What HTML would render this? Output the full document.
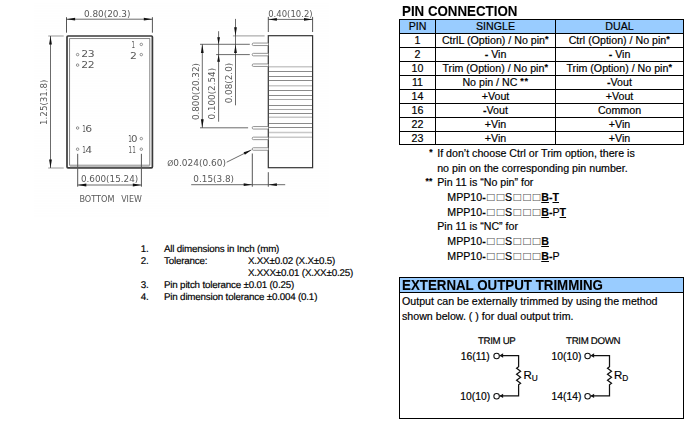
<!DOCTYPE html>
<html>
<head>
<meta charset="utf-8">
<title>Pin Connection</title>
<style>
html,body{margin:0;padding:0;background:#fff;}
body{width:693px;height:426px;position:relative;overflow:hidden;font-family:"Liberation Sans",sans-serif;color:#000;-webkit-text-stroke:0.18px #000;}
h1.t{position:absolute;margin:0;font-size:14px;font-weight:bold;line-height:14px;white-space:nowrap;transform:scaleX(0.951);transform-origin:0 0;-webkit-text-stroke:0.1px #000;}
table.pin{position:absolute;left:399px;top:19px;border-collapse:collapse;font-size:10.65px;table-layout:fixed;width:285px;}
table.pin td,table.pin th{border:1px solid #000;padding:0;height:13px;line-height:13px;text-align:center;font-weight:normal;white-space:nowrap;overflow:hidden;}
table.pin th{background:#99ccff;}
table.pin tr.last td{height:12px;line-height:12px;}
.note{position:absolute;font-size:10.65px;line-height:14px;white-space:nowrap;}
.ln{position:absolute;font-size:9.8px;line-height:12px;white-space:nowrap;letter-spacing:-0.19px;text-rendering:geometricPrecision;}
.q{font-family:"DejaVu Sans","Liberation Sans",sans-serif;font-size:9.7px;letter-spacing:0.52px;color:#555;-webkit-text-stroke:0;position:relative;top:-1.1px;left:0.3px;line-height:0;}
.box{position:absolute;left:399px;top:277px;width:285px;height:142px;border:1px solid #000;box-sizing:border-box;}
.boxh{position:absolute;left:0;top:0;right:0;height:14px;background:#99ccff;border-bottom:1px solid #000;}
svg{position:absolute;left:0;top:0;}
svg text{font-family:"DejaVu Sans","Liberation Sans",sans-serif;font-weight:normal;-webkit-text-stroke:0;}
svg{filter:grayscale(1);}
.a{font-size:9px;font-weight:bold;vertical-align:2.2px;line-height:0;letter-spacing:0.6px;}
u{text-decoration-thickness:1.3px;text-underline-offset:1.4px;}
sub{font-size:8.3px;vertical-align:-1.5px;line-height:0;}
</style>
</head>
<body>
<svg width="693" height="426" viewBox="0 0 693 426">
<defs><pattern id="bg" x="0" y="0" width="8" height="5" patternUnits="userSpaceOnUse"><rect x="0" y="0" width="8" height="2" fill="#fefefe"/><rect x="0" y="3" width="8" height="1" fill="#fefefe"/></pattern></defs>
<rect x="34" y="3" width="295" height="214" fill="url(#bg)"/>
<rect x="67" y="36" width="85.4" height="131.8" rx="1" fill="none" stroke="#3a3a3a" stroke-width="1.7"/>
<rect x="69.6" y="38.6" width="80.2" height="126.6" fill="none" stroke="#777" stroke-width="0.9"/>
<rect x="70" y="165.6" width="79.5" height="1.6" fill="#bbb"/>
<line x1="66.5" y1="17.2" x2="66.5" y2="32.7" stroke="#555" stroke-width="1"/>
<line x1="152.4" y1="17.2" x2="152.4" y2="32.7" stroke="#555" stroke-width="1"/>
<line x1="66.5" y1="19.2" x2="152.4" y2="19.2" stroke="#3a3a3a" stroke-width="0.75"/>
<polygon points="66.60,19.20 75.10,17.80 75.10,20.60" fill="#111"/>
<polygon points="152.30,19.20 143.80,20.60 143.80,17.80" fill="#111"/>
<text x="83.9" y="16.9" font-size="9.2" fill="#585858" textLength="46.6" lengthAdjust="spacingAndGlyphs">0.80(20.3)</text>
<line x1="48.2" y1="36" x2="63.7" y2="36" stroke="#999" stroke-width="1"/>
<line x1="48.2" y1="168" x2="63.7" y2="168" stroke="#999" stroke-width="1"/>
<line x1="50.5" y1="36" x2="50.5" y2="168" stroke="#3a3a3a" stroke-width="0.75"/>
<polygon points="50.50,36.10 51.90,44.60 49.10,44.60" fill="#111"/>
<polygon points="50.50,167.90 49.10,159.40 51.90,159.40" fill="#111"/>
<text x="47.4" y="124.9" font-size="9.2" fill="#585858" textLength="45.4" lengthAdjust="spacingAndGlyphs" transform="rotate(-90 47.4 124.9)">1.25(31.8)</text>
<circle cx="77.6" cy="54.6" r="1.25" fill="none" stroke="#666" stroke-width="0.7"/>
<circle cx="77.6" cy="65.1" r="1.25" fill="none" stroke="#666" stroke-width="0.7"/>
<circle cx="77.6" cy="128" r="1.25" fill="none" stroke="#666" stroke-width="0.7"/>
<circle cx="77.6" cy="149.2" r="1.25" fill="none" stroke="#666" stroke-width="0.7"/>
<circle cx="141.3" cy="44.4" r="1.25" fill="none" stroke="#666" stroke-width="0.7"/>
<circle cx="141.3" cy="54.6" r="1.25" fill="none" stroke="#666" stroke-width="0.7"/>
<circle cx="141.3" cy="138.6" r="1.25" fill="none" stroke="#666" stroke-width="0.7"/>
<circle cx="141.3" cy="149.2" r="1.25" fill="none" stroke="#666" stroke-width="0.7"/>
<text y="57.3" font-size="9.2" fill="#585858"><tspan x="81.2" textLength="6.9" lengthAdjust="spacingAndGlyphs">2</tspan><tspan x="87.8" textLength="6.9" lengthAdjust="spacingAndGlyphs">3</tspan></text>
<text y="68.0" font-size="9.2" fill="#585858"><tspan x="81.2" textLength="6.9" lengthAdjust="spacingAndGlyphs">2</tspan><tspan x="87.8" textLength="6.9" lengthAdjust="spacingAndGlyphs">2</tspan></text>
<text y="131.8" font-size="9.2" fill="#585858"><tspan x="82.2" textLength="3.6" lengthAdjust="spacingAndGlyphs">1</tspan><tspan x="85.2" textLength="6.9" lengthAdjust="spacingAndGlyphs">6</tspan></text>
<text y="153" font-size="9.2" fill="#585858"><tspan x="82.2" textLength="3.6" lengthAdjust="spacingAndGlyphs">1</tspan><tspan x="85.2" textLength="6.9" lengthAdjust="spacingAndGlyphs">4</tspan></text>
<text y="47.8" font-size="9.2" fill="#585858"><tspan x="131.6" textLength="3.6" lengthAdjust="spacingAndGlyphs">1</tspan></text>
<text y="58.9" font-size="9.2" fill="#585858"><tspan x="129.9" textLength="6.9" lengthAdjust="spacingAndGlyphs">2</tspan></text>
<text y="142.3" font-size="9.2" fill="#585858"><tspan x="128.3" textLength="3.6" lengthAdjust="spacingAndGlyphs">1</tspan><tspan x="131.0" textLength="6.5" lengthAdjust="spacingAndGlyphs">0</tspan></text>
<text y="153" font-size="9.2" fill="#585858"><tspan x="128.6" textLength="3.6" lengthAdjust="spacingAndGlyphs">1</tspan><tspan x="132.2" textLength="3.6" lengthAdjust="spacingAndGlyphs">1</tspan></text>
<line x1="77.7" y1="153.8" x2="77.7" y2="186.7" stroke="#555" stroke-width="1"/>
<line x1="141.4" y1="153.8" x2="141.4" y2="186.7" stroke="#555" stroke-width="1"/>
<line x1="77.7" y1="185" x2="141.4" y2="185" stroke="#3a3a3a" stroke-width="0.75"/>
<polygon points="77.80,185.00 86.30,183.60 86.30,186.40" fill="#111"/>
<polygon points="141.30,185.00 132.80,186.40 132.80,183.60" fill="#111"/>
<text x="80.9" y="182.1" font-size="9.2" fill="#585858" textLength="57.3" lengthAdjust="spacingAndGlyphs">0.600(15.24)</text>
<text y="201.8" font-size="9.2" fill="#585858"><tspan x="79.4" textLength="35" lengthAdjust="spacingAndGlyphs">BOTTOM</tspan> <tspan x="121.2" textLength="20.6" lengthAdjust="spacingAndGlyphs">VIEW</tspan></text>
<rect x="268.3" y="35.7" width="44.3" height="132" fill="none" stroke="#333" stroke-width="1.2"/>
<line x1="269" y1="66.7" x2="312" y2="66.7" stroke="#c8c8c8" stroke-width="1.6"/>
<line x1="269" y1="71.5" x2="312" y2="71.5" stroke="#8a8a8a" stroke-width="1"/>
<line x1="269" y1="76.5" x2="312" y2="76.5" stroke="#8a8a8a" stroke-width="1"/>
<line x1="269" y1="80.5" x2="312" y2="80.5" stroke="#8a8a8a" stroke-width="1"/>
<line x1="269" y1="85.8" x2="312" y2="85.8" stroke="#c8c8c8" stroke-width="1.5"/>
<line x1="269" y1="90.5" x2="312" y2="90.5" stroke="#8a8a8a" stroke-width="1"/>
<line x1="269" y1="95.5" x2="312" y2="95.5" stroke="#8a8a8a" stroke-width="1"/>
<line x1="269" y1="99.5" x2="312" y2="99.5" stroke="#aaaaaa" stroke-width="1"/>
<line x1="269" y1="105.5" x2="312" y2="105.5" stroke="#8a8a8a" stroke-width="1"/>
<line x1="269" y1="109.5" x2="312" y2="109.5" stroke="#aaaaaa" stroke-width="1"/>
<line x1="269" y1="113.5" x2="312" y2="113.5" stroke="#8a8a8a" stroke-width="1"/>
<line x1="269" y1="117.3" x2="312" y2="117.3" stroke="#c8c8c8" stroke-width="1.5"/>
<line x1="269" y1="123.5" x2="312" y2="123.5" stroke="#8a8a8a" stroke-width="1"/>
<line x1="269" y1="127.5" x2="312" y2="127.5" stroke="#8a8a8a" stroke-width="1"/>
<line x1="269" y1="132.5" x2="312" y2="132.5" stroke="#c8c8c8" stroke-width="1.5"/>
<line x1="269" y1="137.2" x2="312" y2="137.2" stroke="#c8c8c8" stroke-width="1.5"/>
<path d="M268.3 43.05H253.4a1.2 1.25 0 0 0 0 2.5H268.3" fill="#fff" stroke="#707070" stroke-width="0.75"/>
<path d="M268.3 53.35H253.4a1.2 1.25 0 0 0 0 2.5H268.3" fill="#fff" stroke="#707070" stroke-width="0.75"/>
<path d="M268.3 63.95H253.4a1.2 1.25 0 0 0 0 2.5H268.3" fill="#fff" stroke="#707070" stroke-width="0.75"/>
<path d="M268.3 126.55H253.4a1.2 1.25 0 0 0 0 2.5H268.3" fill="#fff" stroke="#707070" stroke-width="0.75"/>
<path d="M268.3 137.15H253.4a1.2 1.25 0 0 0 0 2.5H268.3" fill="#fff" stroke="#707070" stroke-width="0.75"/>
<path d="M268.3 147.75H253.4a1.2 1.25 0 0 0 0 2.5H268.3" fill="#fff" stroke="#707070" stroke-width="0.75"/>
<line x1="268.3" y1="16.9" x2="268.3" y2="32" stroke="#555" stroke-width="1"/>
<line x1="312.6" y1="16.9" x2="312.6" y2="32" stroke="#555" stroke-width="1"/>
<line x1="268.3" y1="19.4" x2="312.6" y2="19.4" stroke="#3a3a3a" stroke-width="0.75"/>
<polygon points="268.40,19.40 276.90,18.00 276.90,20.80" fill="#111"/>
<polygon points="312.50,19.40 304.00,20.80 304.00,18.00" fill="#111"/>
<text x="268.2" y="16.6" font-size="9.2" fill="#585858" textLength="44.5" lengthAdjust="spacingAndGlyphs">0.40(10.2)</text>
<line x1="232.9" y1="35.9" x2="264.6" y2="35.9" stroke="#999" stroke-width="1"/>
<line x1="200" y1="44.3" x2="249.8" y2="44.3" stroke="#3a3a3a" stroke-width="0.75"/>
<line x1="216.1" y1="54.6" x2="249.8" y2="54.6" stroke="#3a3a3a" stroke-width="0.75"/>
<line x1="200" y1="127.8" x2="248.1" y2="127.8" stroke="#3a3a3a" stroke-width="0.75"/>
<line x1="202.3" y1="44.3" x2="202.3" y2="127.8" stroke="#3a3a3a" stroke-width="0.75"/>
<polygon points="202.30,44.40 203.70,52.90 200.90,52.90" fill="#111"/>
<polygon points="202.30,127.70 200.90,119.20 203.70,119.20" fill="#111"/>
<line x1="218.6" y1="31.2" x2="218.6" y2="121.7" stroke="#3a3a3a" stroke-width="0.75"/>
<polygon points="218.60,44.20 217.20,37.20 220.00,37.20" fill="#111"/>
<polygon points="218.60,54.70 220.00,61.70 217.20,61.70" fill="#111"/>
<line x1="235.5" y1="18.9" x2="235.5" y2="105.3" stroke="#3a3a3a" stroke-width="0.75"/>
<polygon points="235.50,35.80 234.10,27.30 236.90,27.30" fill="#111"/>
<polygon points="235.50,44.40 236.90,52.90 234.10,52.90" fill="#111"/>
<text x="199.2" y="120.1" font-size="9.2" fill="#585858" textLength="57" lengthAdjust="spacingAndGlyphs" transform="rotate(-90 199.2 120.1)">0.800(20.32)</text>
<text x="215.2" y="119.4" font-size="9.2" fill="#585858" textLength="51.5" lengthAdjust="spacingAndGlyphs" transform="rotate(-90 215.2 119.4)">0.100(2.54)</text>
<text x="232.1" y="103.3" font-size="9.2" fill="#585858" textLength="40.5" lengthAdjust="spacingAndGlyphs" transform="rotate(-90 232.1 103.3)">0.08(2.0)</text>
<text x="167.3" y="165.6" font-size="9.2" fill="#585858" textLength="58.7" lengthAdjust="spacingAndGlyphs"><tspan font-size="7.8">Ø</tspan>0.024(0.60)</text>
<line x1="226.7" y1="162.2" x2="251.4" y2="149.9" stroke="#3a3a3a" stroke-width="0.75"/>
<polygon points="251.40,149.90 244.86,154.72 243.61,152.21" fill="#111"/>
<text x="193.3" y="182.1" font-size="9.2" fill="#585858" textLength="40.8" lengthAdjust="spacingAndGlyphs">0.15(3.8)</text>
<line x1="191.2" y1="184.7" x2="285.2" y2="184.7" stroke="#3a3a3a" stroke-width="0.75"/>
<line x1="252.3" y1="153.5" x2="252.3" y2="186.7" stroke="#555" stroke-width="1"/>
<line x1="268.3" y1="172.2" x2="268.3" y2="186.7" stroke="#555" stroke-width="1"/>
<polygon points="252.20,184.70 243.70,186.10 243.70,183.30" fill="#111"/>
<polygon points="268.40,184.70 276.90,183.30 276.90,186.10" fill="#111"/>
<path d="M499.6 355.5H518.6V366.8l-2 1.5l4 3l-4 3l4 3l-4 3l4 3l-2 1.5V395.9H499.6" fill="none" stroke="#111" stroke-width="1.25" stroke-linejoin="miter"/>
<circle cx="496.6" cy="356" r="2.75" fill="#fff" stroke="#111" stroke-width="1.05"/>
<circle cx="496.6" cy="396.3" r="2.75" fill="#fff" stroke="#111" stroke-width="1.05"/>
<polygon points="499.50,355.50 503.10,353.30 503.10,357.70" fill="#111"/>
<polygon points="499.50,395.90 503.10,393.70 503.10,398.10" fill="#111"/>
<path d="M590.6 355.5H609.5V366.8l-2 1.5l4 3l-4 3l4 3l-4 3l4 3l-2 1.5V395.9H590.6" fill="none" stroke="#111" stroke-width="1.25" stroke-linejoin="miter"/>
<circle cx="587.6" cy="356" r="2.75" fill="#fff" stroke="#111" stroke-width="1.05"/>
<circle cx="587.6" cy="396.3" r="2.75" fill="#fff" stroke="#111" stroke-width="1.05"/>
<polygon points="590.50,355.50 594.10,353.30 594.10,357.70" fill="#111"/>
<polygon points="590.50,395.90 594.10,393.70 594.10,398.10" fill="#111"/>
</svg>
<h1 class="t" style="left:402.2px;top:4px;">PIN CONNECTION</h1>
<table class="pin">
<colgroup><col style="width:36px"><col style="width:120px"><col style="width:128px"></colgroup>
<tr><th>PIN</th><th>SINGLE</th><th>DUAL</th></tr>
<tr><td>1</td><td>CtrlL (Option) / No pin<span class="a">*</span></td><td>Ctrl (Option) / No pin<span class="a">*</span></td></tr>
<tr><td>2</td><td><b>-</b> Vin</td><td><b>-</b> Vin</td></tr>
<tr><td>10</td><td>Trim (Option) / No pin<span class="a">*</span></td><td>Trim (Option) / No pin<span class="a">*</span></td></tr>
<tr><td>11</td><td>No pin / NC <span class="a">**</span></td><td><b>-</b>Vout</td></tr>
<tr><td>14</td><td>+Vout</td><td>+Vout</td></tr>
<tr><td>16</td><td><b>-</b>Vout</td><td>Common</td></tr>
<tr><td>22</td><td>+Vin</td><td>+Vin</td></tr>
<tr class="last"><td>23</td><td>+Vin</td><td>+Vin</td></tr>
</table>
<div class="note" style="left:429.3px;top:145.3px;font-size:8.5px;font-weight:bold;">*</div>
<div class="note" style="left:437.2px;top:146px;">If don’t choose Ctrl or Trim option, there is</div>
<div class="note" style="left:437.2px;top:161px;">no pin on the corresponding pin number.</div>
<div class="note" style="left:425.4px;top:174.3px;font-size:8.5px;font-weight:bold;letter-spacing:0.4px;">**</div>
<div class="note" style="left:437.2px;top:175px;">Pin 11 is “No pin” for</div>
<div class="note" style="left:447.3px;top:190px;">MPP10<b>-</b><span class="q">□□</span>S<span class="q">□□□</span><b><u>B</u>-<u>T</u></b></div>
<div class="note" style="left:447.3px;top:205px;">MPP10<b>-</b><span class="q">□□</span>S<span class="q">□□□</span><b><u>B</u>-</b>P<b><u>T</u></b></div>
<div class="note" style="left:437.2px;top:219px;">Pin 11 is “NC” for</div>
<div class="note" style="left:447.3px;top:234px;">MPP10<b>-</b><span class="q">□□</span>S<span class="q">□□□</span><b><u>B</u></b></div>
<div class="note" style="left:447.3px;top:249px;">MPP10<b>-</b><span class="q">□□</span>S<span class="q">□□□</span><b><u>B</u>-</b>P</div>
<div class="box"><div class="boxh"></div></div>
<h1 class="t" style="left:402.2px;top:278px;">EXTERNAL OUTPUT TRIMMING</h1>
<div class="note" style="left:402px;top:294px;">Output can be externally trimmed by using the method</div>
<div class="note" style="left:402px;top:309px;">shown below. ( ) for dual output trim.</div>
<div class="ln" style="left:477.9px;top:336px;font-size:9.7px;letter-spacing:-0.32px;">TRIM UP</div>
<div class="ln" style="left:566.1px;top:336px;font-size:9.7px;letter-spacing:-0.32px;">TRIM DOWN</div>
<div class="note" style="left:460.8px;top:349.5px;font-size:10.3px;">16(11)</div>
<div class="note" style="left:460.3px;top:390.2px;font-size:10.3px;">10(10)</div>
<div class="note" style="left:551.6px;top:349.5px;font-size:10.3px;">10(10)</div>
<div class="note" style="left:551.6px;top:390.2px;font-size:10.3px;">14(14)</div>
<div class="note" style="left:523.4px;top:368.3px;font-size:11.5px;">R<sub>U</sub></div>
<div class="note" style="left:613.9px;top:368.3px;font-size:11.5px;">R<sub>D</sub></div>
<div class="ln" style="left:140.8px;top:244px;">1.</div>
<div class="ln" style="left:164.0px;top:244px;">All dimensions in Inch (mm)</div>
<div class="ln" style="left:140.8px;top:256px;">2.</div>
<div class="ln" style="left:164.0px;top:256px;">Tolerance:</div>
<div class="ln" style="left:247.9px;top:256px;">X.XX±0.02 (X.X±0.5)</div>
<div class="ln" style="left:247.9px;top:268px;">X.XXX±0.01 (X.XX±0.25)</div>
<div class="ln" style="left:140.8px;top:280px;">3.</div>
<div class="ln" style="left:164.0px;top:280px;">Pin pitch tolerance ±0.01 (0.25)</div>
<div class="ln" style="left:140.8px;top:292px;">4.</div>
<div class="ln" style="left:164.0px;top:292px;">Pin dimension tolerance ±0.004 (0.1)</div>
</body>
</html>
